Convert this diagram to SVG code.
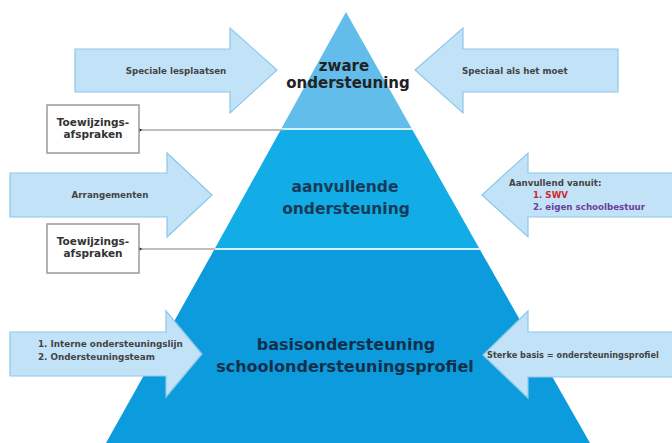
<svg xmlns="http://www.w3.org/2000/svg" width="672" height="443" viewBox="0 0 672 443">
  <style>
    .tier-title { font-family: "DejaVu Sans", Verdana, sans-serif; font-weight: bold; text-anchor: middle; }
    .arrow { fill: #c2e3f7; stroke: #8ec7e8; stroke-width: 1.2; }
    .atext { font-family: "DejaVu Sans", Verdana, sans-serif; font-weight: bold; font-size: 8.7px; fill: #444; }
    .atext.sm { font-size: 8.8px; }
    .atext.red { fill: #d0282e; }
    .atext.purple { fill: #6a3f9c; }
    .atext.wide { font-size: 8.2px; }
    .box { fill: #ffffff; stroke: #9a9a9a; stroke-width: 1.5; }
    .btext { font-family: "DejaVu Sans", Verdana, sans-serif; font-weight: bold; font-size: 10.5px; fill: #333; text-anchor: middle; }
    .conn { stroke: #aaaaaa; stroke-width: 1.3; fill: none; }
    .divider { stroke: #d8f0fb; stroke-width: 2; }
  </style>
  <defs>
    <marker id="ah" viewBox="0 0 10 10" refX="1" refY="5" markerWidth="4.5" markerHeight="4.5" orient="auto-start-reverse">
      <path d="M0,5 L10,0 L10,10 Z" fill="#222"/>
    </marker>
  </defs>

  <rect width="672" height="443" fill="#ffffff"/>

  <g id="pyramid">
    <g id="tier-zware">
      <polygon points="346,12 281.7,128 411.4,128" fill="#62bdea"/>
      <text class="tier-title" x="344" y="71" font-size="15" fill="#222">zware</text>
      <text class="tier-title" x="348" y="88" font-size="15" fill="#222">ondersteuning</text>
    </g>
    <g id="tier-aanvullend">
      <polygon points="281.7,128 411.4,128 479.6,249 214.6,249" fill="#12ace6"/>
      <text class="tier-title" x="345" y="192" font-size="15.5" fill="#173a58">aanvullende</text>
      <text class="tier-title" x="346" y="214" font-size="15.5" fill="#173a58">ondersteuning</text>
    </g>
    <g id="tier-basis">
      <polygon points="214.6,249 479.6,249 590,443 106,443" fill="#0c9cdd"/>
      <text class="tier-title" x="346" y="350" font-size="16" fill="#12304c">basisondersteuning</text>
      <text class="tier-title" x="345" y="372" font-size="16" fill="#12304c">schoolondersteuningsprofiel</text>
    </g>
    <line class="divider" x1="281" y1="129" x2="412" y2="129"/>
    <line class="divider" x1="214" y1="249" x2="480" y2="249"/>
  </g>

  <g id="connectors">
    <line class="conn" x1="283" y1="130" x2="142" y2="130" marker-end="url(#ah)"/>
    <line class="conn" x1="215" y1="249" x2="142" y2="249" marker-end="url(#ah)"/>
  </g>

  <g id="box-toewijzing-1">
    <rect class="box" x="47" y="105" width="92" height="48"/>
    <text class="btext" x="93" y="126">Toewijzings-</text>
    <text class="btext" x="93" y="138">afspraken</text>
  </g>
  <g id="box-toewijzing-2">
    <rect class="box" x="47" y="224" width="92" height="49"/>
    <text class="btext" x="93" y="245">Toewijzings-</text>
    <text class="btext" x="93" y="257">afspraken</text>
  </g>

  <g id="arrow-speciale-lesplaatsen">
    <polygon class="arrow" points="75,49 230,49 230,28 277,70 230,113 230,92 75,92"/>
    <text class="atext" x="176" y="74" text-anchor="middle">Speciale lesplaatsen</text>
  </g>
  <g id="arrow-speciaal-als-het-moet">
    <polygon class="arrow" points="618,49 463,49 463,28 415,70 463,113 463,92 618,92"/>
    <text class="atext" x="462" y="74">Speciaal als het moet</text>
  </g>
  <g id="arrow-arrangementen">
    <polygon class="arrow" points="10,173 167,173 167,153 212,195 167,237 167,217 10,217"/>
    <text class="atext" x="110" y="198" text-anchor="middle">Arrangementen</text>
  </g>
  <g id="arrow-aanvullend-vanuit">
    <polygon class="arrow" points="690,173 528,173 528,153 482,195 528,237 528,217 690,217"/>
    <text class="atext" x="509" y="186">Aanvullend vanuit:</text>
    <text class="atext red" x="533" y="198">1. SWV</text>
    <text class="atext purple" x="533" y="210">2. eigen schoolbestuur</text>
  </g>
  <g id="arrow-interne-lijn">
    <polygon class="arrow" points="10,332 166,332 166,311 202,354 166,397 166,376 10,376"/>
    <text class="atext sm" x="38" y="347">1. Interne ondersteuningslijn</text>
    <text class="atext sm" x="38" y="360">2. Ondersteuningsteam</text>
  </g>
  <g id="arrow-sterke-basis">
    <polygon class="arrow" points="690,332 528,332 528,311 483,355 528,398 528,377 690,377"/>
    <text class="atext wide" x="487" y="358">Sterke basis = ondersteuningsprofiel</text>
  </g>
</svg>
